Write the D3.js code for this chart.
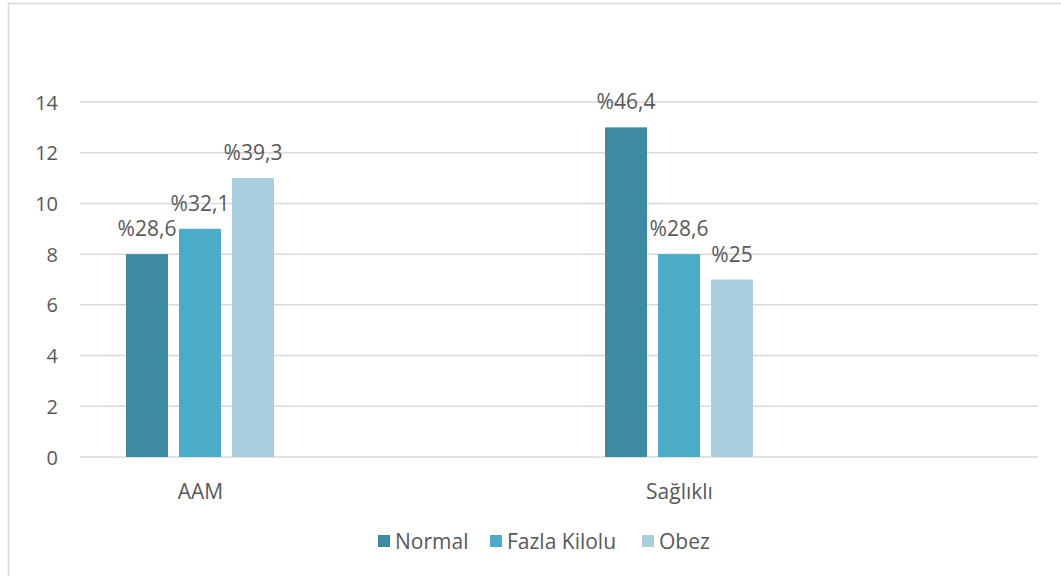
<!DOCTYPE html>
<html>
<head>
<meta charset="utf-8">
<script src="https://cdn.jsdelivr.net/npm/d3@7"></script>
<style>
  html, body { margin: 0; padding: 0; background: #fff; }
  svg { display: block; }
  text { font-family: "Open Sans", sans-serif; fill: #595959; }
</style>
</head>
<body>
<script>
const categories = ["AAM", "Sağlıklı"];
const seriesNames = ["Normal", "Fazla Kilolu", "Obez"];
const normalValues = [8, 13];
const fazlaValues = [9, 8];
const obezValues = [11, 7];
const normalLabels = ["%28,6", "%46,4"];
const fazlaLabels = ["%32,1", "%28,6"];
const obezLabels = ["%39,3", "%25"];
const yTicks = [0, 2, 4, 6, 8, 10, 12, 14];
const colors = ["#3c8ba2", "#4aacc6", "#a9cfde"];

const seriesValues = [normalValues, fazlaValues, obezValues];
const seriesLabels = [normalLabels, fazlaLabels, obezLabels];

const W = 1061, H = 576;
const svg = d3.select("body").append("svg").attr("width", W).attr("height", H);

// outer border
svg.append("rect")
  .attr("x", 8.5).attr("y", 3.5)
  .attr("width", W + 10).attr("height", H + 10)
  .attr("fill", "none").attr("stroke", "#d9d9d9").attr("stroke-width", 1.5);

const plotLeft = 80, plotRight = 1038;
const y = d3.scaleLinear().domain([0, 14]).range([457, 102]);
const x = d3.scalePoint().domain(categories).range([200, 679]);
const xs = d3.scaleBand().domain(seriesNames).range([-74, 74]).paddingInner(0.2075).paddingOuter(0);

// gridlines
svg.append("g").selectAll("line").data(yTicks).join("line")
  .attr("x1", plotLeft).attr("x2", plotRight)
  .attr("y1", d => y(d)).attr("y2", d => y(d))
  .attr("stroke", "#d9d9d9").attr("stroke-width", 1.5);

// y axis labels
const yAxis = d3.axisLeft(y).tickValues(yTicks).tickSize(0).tickPadding(0);
const gy = svg.append("g").attr("transform", `translate(58,0)`).call(yAxis);
gy.select(".domain").remove();
gy.selectAll("text").style("font-family", "'Open Sans', sans-serif")
  .style("font-size", "20px").attr("fill", "#595959").attr("dy", "0.35em");

// bars
seriesNames.forEach((s, i) => {
  const g = svg.append("g");
  g.selectAll("rect").data(categories).join("rect")
    .attr("x", (c) => x(c) + xs(s))
    .attr("width", xs.bandwidth())
    .attr("y", (c, j) => y(seriesValues[i][j]))
    .attr("height", (c, j) => y(0) - y(seriesValues[i][j]))
    .attr("fill", colors[i]);
  g.selectAll("text").data(categories).join("text")
    .attr("x", (c) => x(c) + xs(s) + xs.bandwidth() / 2)
    .attr("y", (c, j) => y(seriesValues[i][j]) - 18)
    .attr("text-anchor", "middle")
    .style("font-size", "21px")
    .text((c, j) => seriesLabels[i][j]);
});

// x axis labels
const xAxis = d3.axisBottom(x).tickSize(0).tickPadding(0);
const gx = svg.append("g").attr("transform", `translate(0,${y(0)})`).call(xAxis);
gx.select(".domain").remove();
gx.selectAll("text").style("font-family", "'Open Sans', sans-serif")
  .style("font-size", "21px").attr("fill", "#595959").attr("dy", "0").attr("y", 42);

// legend
const legendX = [378, 490, 642];
const lg = svg.append("g");
seriesNames.forEach((s, i) => {
  lg.append("rect").attr("x", legendX[i]).attr("y", 535).attr("width", 12).attr("height", 12).attr("fill", colors[i]);
  lg.append("text").attr("x", legendX[i] + 17).attr("y", 548.5)
    .style("font-size", "21px").text(s);
});
</script>
</body>
</html>
